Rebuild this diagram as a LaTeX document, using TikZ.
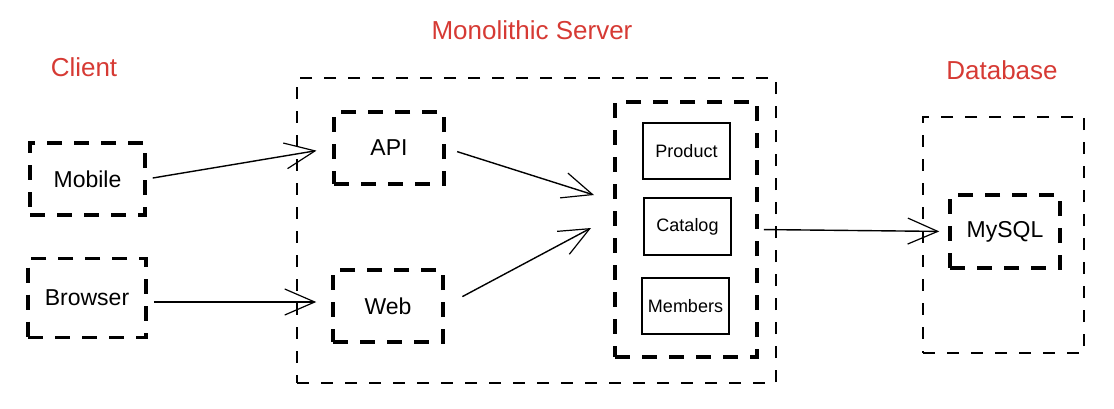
\documentclass[tikz,border=0pt]{standalone}
\usepackage{fontspec}
\setmainfont{Liberation Sans}
\usetikzlibrary{arrows.meta}
\definecolor{labelred}{RGB}{214,58,52}

\begin{document}
\begin{tikzpicture}
[x=1pt,y=-1pt,>={Straight Barb[length=30pt,width=26pt,line width=1.2pt]},
thinbox/.style={draw,line width=2pt,dash pattern=on 12pt off 12pt,inner sep=0pt},
thickbox/.style={draw,line width=3.5pt,dash pattern=on 15pt off 12pt,inner sep=0pt,font=\fontsize{23}{25}\selectfont},
module/.style={draw,line width=1.3pt,inner sep=0pt,minimum width=87pt,minimum height=56pt,font=\fontsize{18}{20}\selectfont},
title/.style={text=labelred,font=\fontsize{26}{28}\selectfont},
arrow/.style={->,line width=1.4pt},]

\useasboundingbox (0,0) rectangle (1114,408);

%Section titles
\node (ClientT) at (84,67) [title] {Client};
\node (ServerT) at (532,30) [title] {Monolithic Server};
\node (DbT) at (1002,70) [title] {Database};

%Clients
\node (Mobile) at (87.5,179) [thickbox,minimum width=115pt,minimum height=72pt] {Mobile};
\node (Browser) at (87,298) [thickbox,minimum width=118pt,minimum height=79pt] {Browser};

%Monolithic server
\node (Server) at (536.5,230.5) [thinbox,minimum width=479pt,minimum height=305pt] {};
\node (API) at (389,148) [thickbox,minimum width=110pt,minimum height=72pt] {API};
\node (Web) at (388,306) [thickbox,minimum width=110pt,minimum height=72pt] {Web};
\node (Group) at (686,229.5) [thickbox,minimum width=142pt,minimum height=255pt] {};
\node (Product) at (686.5,151) [module] {Product};
\node (Catalog) at (687.5,226.5) [module,minimum height=57pt] {Catalog};
\node (Members) at (685.5,306) [module] {Members};

%Database
\node (Db) at (1003.5,235) [thinbox,minimum width=161pt,minimum height=236pt] {};
\node (MySQL) at (1005,231.5) [thickbox,minimum width=110pt,minimum height=73pt] {MySQL};

%Arrow ends in front of the group
\coordinate (GroupA) at (594,195);
\coordinate (GroupW) at (591,228);

%Drawing arrows
\draw[arrow,shorten <=6pt,shorten >=16pt] (Mobile.east) -- (API.west);
\draw[arrow,shorten <=6pt,shorten >=15pt] ([yshift=-4pt]Browser.east) -- ([yshift=-4pt]Browser.east -| Web.west);
\draw[arrow,shorten <=12pt] (API.east) -- (GroupA);
\draw[arrow,shorten <=20pt] (Web.east) -- (GroupW);
\draw[arrow,shorten <=5pt,shorten >=9pt] (Group.east) -- (MySQL.west);

\end{tikzpicture}
\end{document}
